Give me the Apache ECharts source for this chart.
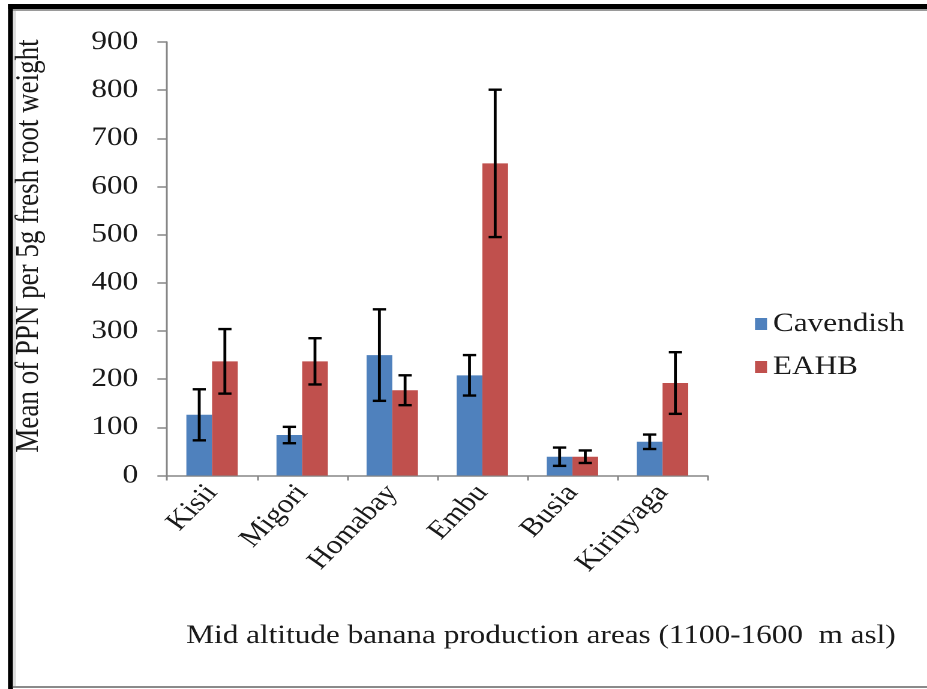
<!DOCTYPE html>
<html>
<head>
<meta charset="utf-8">
<script src="https://cdn.jsdelivr.net/npm/echarts@6/dist/echarts.min.js"></script>
<style>
html,body{margin:0;padding:0;background:#fff;}
#wrap{width:927px;height:689px;overflow:hidden;background:#fff;position:relative;}
#c{width:772.5px;height:689px;transform:scaleX(1.2);transform-origin:0 0;}
</style>
</head>
<body>
<div id="wrap"><div id="c"></div></div>
<script>
const categories = ['Kisii', 'Migori', 'Homabay', 'Embu', 'Busia', 'Kirinyaga'];
const seriesNames = ['Cavendish', 'EAHB'];
const cavendish = [126, 84, 250, 208, 39, 70];
const eahb = [237, 237, 177, 648, 39, 192];
const cavendishErr = [53, 17, 95, 42, 19, 15];
const eahbErr = [67, 48, 31, 153, 13, 64];
const yMin = 0, yMax = 900, yInterval = 100;
const yAxisTitle = 'Mean of PPN per 5g fresh root weight';
const xAxisTitle = 'Mid altitude banana production areas (1100-1600  m asl)';

const SX = 1.2; // horizontal stretch applied by CSS
const FONT = '"Liberation Serif", "Times New Roman", serif';
const colors = ['#4F81BD', '#C0504D'];
const GAP = 0.43;

function errSeries(values, errs, side) {
  return {
    type: 'custom',
    z: 10,
    silent: true,
    data: values.map((v, i) => [i, v, errs[i]]),
    renderItem: function (params, api) {
      const idx = api.value(0), val = api.value(1), err = api.value(2);
      const catW = api.size([1, 0])[0];
      const bw = catW * (1 - GAP) / 2;
      const cx = api.coord([idx, val])[0] + side * bw / 2;
      const yt = api.coord([idx, val + err])[1];
      const yb = api.coord([idx, val - err])[1];
      const cap = 5.5;
      const st = { stroke: '#000', lineWidth: 2.4 };
      return {
        type: 'group',
        children: [
          { type: 'line', shape: { x1: cx, y1: yt, x2: cx, y2: yb }, style: st },
          { type: 'line', shape: { x1: cx - cap, y1: yt, x2: cx + cap, y2: yt }, style: st },
          { type: 'line', shape: { x1: cx - cap, y1: yb, x2: cx + cap, y2: yb }, style: st }
        ]
      };
    }
  };
}

const chart = echarts.init(document.getElementById('c'), null, { renderer: 'canvas', devicePixelRatio: 2 });
const W = 927 / SX;
const option = {
  backgroundColor: '#fff',
  animation: false,
  color: colors,
  textStyle: { fontFamily: FONT, color: '#1a1a1a' },
  grid: { left: 167 / SX, right: W - 707 / SX, top: 42, bottom: 689 - 475.5, containLabel: false },
  legend: {
    orient: 'vertical',
    left: 749 / SX,
    top: 306,
    itemWidth: 10,
    itemHeight: 12,
    itemGap: 17,
    icon: 'rect',
    textStyle: { fontFamily: FONT, fontSize: 26, color: '#1a1a1a' },
    data: seriesNames
  },
  xAxis: {
    type: 'category',
    data: categories,
    axisLine: { lineStyle: { color: '#868686', width: 1.5 } },
    axisTick: { show: true, length: 5, lineStyle: { color: '#868686', width: 1.5 } },
    axisLabel: { rotate: 50, margin: 13, fontFamily: FONT, fontSize: 26, color: '#1a1a1a', interval: 0 }
  },
  yAxis: {
    type: 'value',
    min: yMin, max: yMax, interval: yInterval,
    splitLine: { show: false },
    axisLine: { show: true, lineStyle: { color: '#868686', width: 1.5 } },
    axisTick: { show: true, length: 8, lineStyle: { color: '#868686', width: 1.5 } },
    axisLabel: { margin: 24, fontFamily: FONT, fontSize: 26, color: '#1a1a1a' }
  },
  graphic: [
    { type: 'rect', shape: { x: 8 / SX, y: 4, width: W, height: 5 }, style: { fill: '#000' } },
    { type: 'rect', shape: { x: 13 / SX, y: 9, width: W, height: 2 }, style: { fill: '#9a9a9a' } },
    { type: 'rect', shape: { x: 8 / SX, y: 4, width: 5 / SX, height: 689 }, style: { fill: '#000' } },
    { type: 'rect', shape: { x: 13 / SX, y: 11, width: 3 / SX, height: 676 }, style: { fill: '#dcdcdc' } },
    { type: 'rect', shape: { x: 13 / SX, y: 686, width: W, height: 2 }, style: { fill: '#8a8a8a' } },
    {
      type: 'text', x: 29 / SX, y: 246, rotation: Math.PI / 2,
      style: { text: yAxisTitle, fontFamily: FONT, fontSize: 27, fill: '#1a1a1a', align: 'center', verticalAlign: 'middle' }
    },
    {
      type: 'text', x: 541 / SX, y: 636,
      style: { text: xAxisTitle, fontFamily: FONT, fontSize: 26, fill: '#1a1a1a', align: 'center', verticalAlign: 'middle' }
    }
  ],
  series: [
    { name: seriesNames[0], type: 'bar', data: cavendish, barGap: '0%', barCategoryGap: (GAP * 100) + '%', itemStyle: { color: colors[0] } },
    { name: seriesNames[1], type: 'bar', data: eahb, barGap: '0%', barCategoryGap: (GAP * 100) + '%', itemStyle: { color: colors[1] } },
    errSeries(cavendish, cavendishErr, -1),
    errSeries(eahb, eahbErr, 1)
  ]
};
chart.setOption(option);
</script>
</body>
</html>
